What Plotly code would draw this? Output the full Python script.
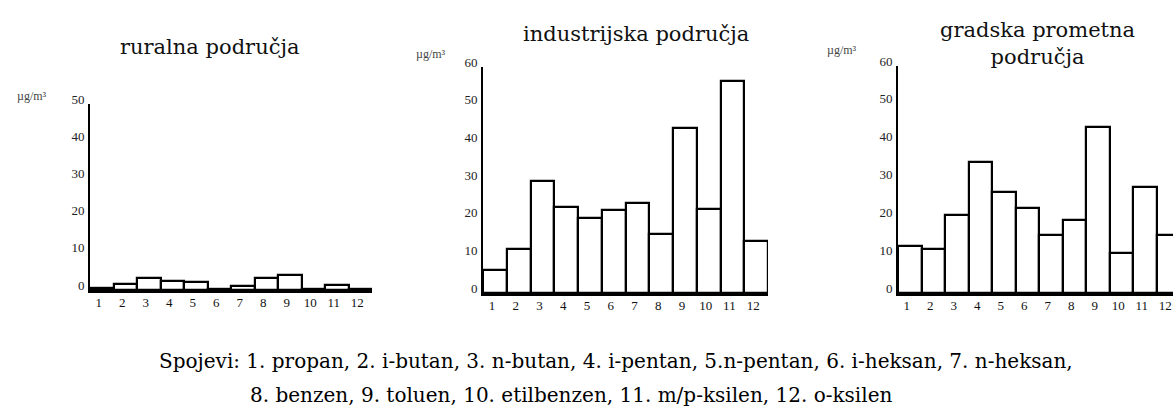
import plotly.graph_objects as go

W, H = 1173, 412

compounds = ["1", "2", "3", "4", "5", "6", "7", "8", "9", "10", "11", "12"]
rural = [0.5, 1.6, 3.3, 2.3, 2.1, 0.2, 1.2, 3.1, 3.9, 0.2, 1.4, 0.3]
industrial = [6.0, 11.7, 29.8, 22.8, 19.9, 22.1, 23.8, 15.7, 43.7, 22.3, 56.2, 13.7]
urban = [12.3, 11.7, 20.7, 34.7, 26.6, 22.4, 15.2, 19.3, 44.0, 10.6, 28.0, 15.4]

titles = ["ruralna područja", "industrijska područja", "gradska prometna<br>područja"]
unit = "µg/m³"
legend_line1 = "Spojevi: 1. propan, 2. i-butan, 3. n-butan, 4. i-pentan, 5.n-pentan, 6. i-heksan, 7. n-heksan,"
legend_line2 = "8. benzen, 9. toluen, 10. etilbenzen, 11. m/p-ksilen, 12. o-ksilen"

rural_ticks = [0, 10, 20, 30, 40, 50]
other_ticks = [0, 10, 20, 30, 40, 50, 60]

FONT = "DejaVu Serif"
TFONT = "Liberation Serif"


def px(x):
    return x / W


def py(y):
    return 1 - y / H


xnum = list(range(1, 13))

fig = go.Figure()
series = [rural, industrial, urban]
for i, vals in enumerate(series):
    suf = "" if i == 0 else str(i + 1)
    fig.add_trace(go.Bar(
        x=xnum, y=vals, width=1.0,
        marker=dict(color="white", line=dict(color="black", width=2.2)),
        xaxis="x" + suf, yaxis="y" + suf, showlegend=False,
        hoverinfo="skip",
    ))

# panel geometry (pixels): x0, x1, baseline y, top y
panels = [
    (90, 372, 290, 104, [0.5, 12.5], [0, 50], rural_ticks),
    (483, 768, 293, 67, [0.5, 12.5], [0, 60], other_ticks),
    (898, 1173, 293, 66, [0.5, 12.2], [0, 60], other_ticks),
]

layout = dict(
    width=W, height=H, autosize=False,
    margin=dict(l=0, r=0, t=0, b=0, pad=0, autoexpand=False),
    paper_bgcolor="white", plot_bgcolor="white",
    bargap=0,
    font=dict(family=FONT, color="black"),
)
for i, (x0, x1, yb, yt, xr, yr, yt_vals) in enumerate(panels):
    suf = "" if i == 0 else str(i + 1)
    layout["xaxis" + suf] = dict(
        domain=[px(x0), px(x1)], range=xr, anchor="y" + suf,
        tickmode="array", tickvals=xnum, ticktext=compounds,
        showline=True, linecolor="black", linewidth=3,
        ticks="", showgrid=False, zeroline=False, automargin=False,
        tickfont=dict(size=13, family=TFONT, color="#111"),
        ticklabelstandoff=-2, ticklabelshift=-3,
    )
    layout["yaxis" + suf] = dict(
        domain=[py(yb), py(yt)], range=yr, anchor="x" + suf,
        tickmode="array", tickvals=yt_vals,
        showline=True, linecolor="black", linewidth=2,
        ticks="", showgrid=False, zeroline=False, automargin=False,
        tickfont=dict(size=13, family=TFONT, color="#222"),
        ticklabelstandoff=1, ticklabelshift=-5,
    )

fig.update_layout(**layout)

# titles
fig.add_annotation(x=px(209), y=py(47), xref="paper", yref="paper", text=titles[0],
                   showarrow=False, font=dict(size=21, family=FONT, color="#111"),
                   xanchor="center", yanchor="middle")
fig.add_annotation(x=px(636), y=py(34), xref="paper", yref="paper", text=titles[1],
                   showarrow=False, font=dict(size=21, family=FONT, color="#111"),
                   xanchor="center", yanchor="middle")
fig.add_annotation(x=px(1037), y=py(44), xref="paper", yref="paper", text=titles[2],
                   showarrow=False, font=dict(size=21, family=FONT, color="#111"),
                   xanchor="center", yanchor="middle")

# unit labels
for (ux, uy) in [(32, 96), (431, 54), (842, 50)]:
    fig.add_annotation(x=px(ux), y=py(uy), xref="paper", yref="paper", text=unit,
                       showarrow=False, font=dict(size=12, family=TFONT, color="#444"),
                       xanchor="center", yanchor="middle")

# compound legend
fig.add_annotation(x=px(157), y=py(361), xref="paper", yref="paper", text=legend_line1,
                   showarrow=False, font=dict(size=20, family=FONT, color="black"),
                   xanchor="left", yanchor="middle")
fig.add_annotation(x=px(248), y=py(395), xref="paper", yref="paper", text=legend_line2,
                   showarrow=False, font=dict(size=20, family=FONT, color="black"),
                   xanchor="left", yanchor="middle")

fig.write_html(
    "out.html",
    config={"displayModeBar": False},
    post_script="document.body.style.margin='0';document.body.style.padding='0';",
)
